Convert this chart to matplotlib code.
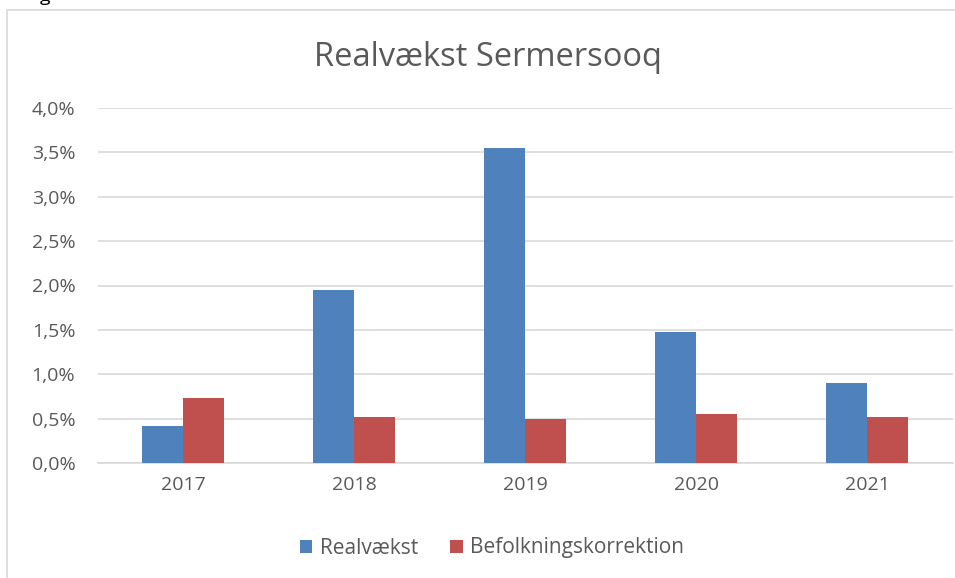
import matplotlib
matplotlib.use("Agg")
import matplotlib.pyplot as plt
from matplotlib.patches import Rectangle
from matplotlib.ticker import FuncFormatter
import numpy as np

years = ["2017", "2018", "2019", "2020", "2021"]
realvaekst = [0.42, 1.95, 3.55, 1.48, 0.90]
befolkning = [0.73, 0.52, 0.50, 0.55, 0.52]
series_names = ["Realvækst", "Befolkningskorrektion"]
title = "Realvækst Sermersooq"

plt.rcParams['font.family'] = ['Open Sans', 'DejaVu Sans']
W, H = 955, 578
fig = plt.figure(figsize=(W / 100, H / 100), dpi=100)
fig.patch.set_facecolor("white")

# chart border (extends beyond image right/bottom)
fig.patches.append(Rectangle((7 / W, -0.1), 1.2, 1.1 - 10 / H, transform=fig.transFigure,
                             fill=False, edgecolor="#d9d9d9", linewidth=1.2, zorder=0))
fig.text(40 / W, 1.0 + 4 / H, "g", fontsize=14, color="#000000", ha="left", va="center")

ax = fig.add_axes([97.5 / W, (H - 463) / H, (952.5 - 97.5) / W, (463 - 108) / H])
x = np.arange(len(years))
bw = 0.24
c1, c2 = "#4f81bd", "#c0504d"
ax.bar(x - bw / 2, realvaekst, bw, color=c1, label=series_names[0], zorder=3)
ax.bar(x + bw / 2, befolkning, bw, color=c2, label=series_names[1], zorder=3)

ax.set_xlim(-0.5, len(years) - 0.5)
ax.set_ylim(0, 4.0)
ax.set_yticks(np.arange(0, 4.01, 0.5))
ax.yaxis.set_major_formatter(FuncFormatter(lambda v, p: f"{v:.1f}%".replace(".", ",")))
ax.set_xticks(x)
ax.set_xticklabels(years)
ax.grid(axis="y", color="#d9d9d9", linewidth=1.2, zorder=0)
for s in ["top", "right", "left"]:
    ax.spines[s].set_visible(False)
ax.spines["bottom"].set_color("#d9d9d9")
ax.spines["bottom"].set_linewidth(1.2)
ax.tick_params(axis="both", length=0, labelsize=14, labelcolor="#595959")
ax.tick_params(axis="y", pad=16)
ax.tick_params(axis="x", pad=9)

fig.text(488 / W, 1 - 58 / H, title, ha="center", va="center", fontsize=23.5, color="#595959")

leg = fig.legend(loc="center", bbox_to_anchor=(492 / W, 1 - 548 / H), ncol=2, frameon=False,
                 fontsize=15, handlelength=0.6, handleheight=0.6, handletextpad=0.35,
                 columnspacing=1.55, labelcolor="#595959")

fig.savefig("out.png", dpi=100, facecolor="white")
